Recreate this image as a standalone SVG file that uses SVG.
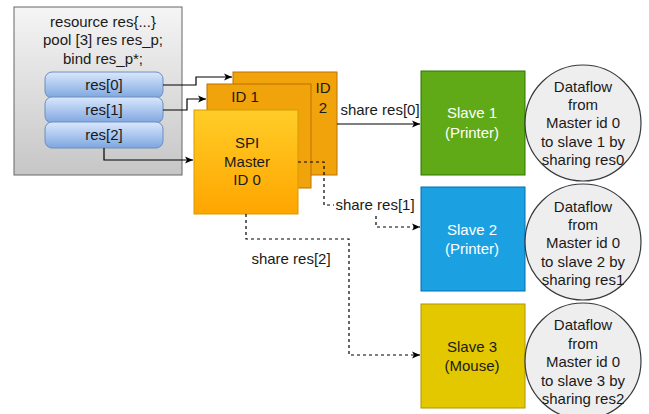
<svg xmlns="http://www.w3.org/2000/svg" width="649" height="414" viewBox="0 0 649 414">
<style>
text{font-family:"Liberation Sans",Arial,sans-serif;font-size:15px;text-anchor:middle;fill:#1a1a1a}
.w{fill:#ffffff}
.conn{fill:none;stroke:#000;stroke-width:1.2}
.dash{stroke-dasharray:3 3}
.circ{fill:#eeeeee;stroke:#36393d;stroke-width:1.2}
.res{stroke:#6c8ebf;stroke-width:1;fill:url(#gBlue)}
</style>
<defs>
<linearGradient id="gGray" x1="0" y1="0" x2="0" y2="1"><stop offset="0" stop-color="#f5f5f5"/><stop offset="1" stop-color="#c6c6c6"/></linearGradient>
<linearGradient id="gBlue" x1="0" y1="0" x2="0" y2="1"><stop offset="0" stop-color="#dae8fc"/><stop offset="1" stop-color="#7ea6e0"/></linearGradient>
<linearGradient id="gOrange" x1="0" y1="0" x2="0" y2="1"><stop offset="0" stop-color="#ffcd28"/><stop offset="1" stop-color="#ffa500"/></linearGradient>
<marker id="arr" markerWidth="10" markerHeight="10" refX="9" refY="5" orient="auto" markerUnits="userSpaceOnUse"><path d="M1,1.5 L9,5 L1,8.5 L3,5 Z" fill="#000"/></marker>
</defs>

<g id="pool">
<rect x="14" y="7" width="168" height="168" fill="url(#gGray)" stroke="#666666"/>
<text x="103" y="27">resource res{...}</text>
<text x="103" y="45">pool [3] res res_p;</text>
<text x="103" y="64">bind res_p*;</text>
</g>
<g id="res0"><rect class="res" x="45" y="72" width="118" height="26" rx="7"/><text x="104" y="90">res[0]</text></g>
<g id="res1"><rect class="res" x="45" y="97" width="118" height="26" rx="7"/><text x="104" y="115">res[1]</text></g>
<g id="res2"><rect class="res" x="45" y="122" width="118" height="26" rx="7"/><text x="104" y="140">res[2]</text></g>

<g id="id2"><rect x="233" y="72" width="104" height="103" fill="#f0a30a" stroke="#bd7000"/><text x="323" y="93">ID</text><text x="323" y="113">2</text></g>
<g id="id1"><rect x="207" y="84" width="104" height="104" fill="#f0a30a" stroke="#bd7000"/><text x="245" y="102">ID 1</text></g>
<g id="id0"><rect x="194" y="110" width="104" height="104" fill="url(#gOrange)" stroke="#d79b00"/><text x="247" y="148">SPI</text><text x="247" y="167">Master</text><text x="247" y="185">ID 0</text></g>

<g id="slave1"><rect x="421" y="71" width="104" height="104" fill="#60a917" stroke="#2d7600"/><text class="w" x="472" y="118">Slave 1</text><text class="w" x="472" y="138">(Printer)</text></g>
<g id="slave2"><rect x="421" y="187" width="104" height="104" fill="#1ba1e2" stroke="#006eaf"/><text class="w" x="472" y="235">Slave 2</text><text class="w" x="472" y="254">(Printer)</text></g>
<g id="slave3"><rect x="421" y="304" width="104" height="104" fill="#e3c800" stroke="#b09500"/><text x="472" y="352">Slave 3</text><text x="472" y="371">(Mouse)</text></g>

<g id="note1"><circle class="circ" cx="583" cy="123" r="58"/><text x="583" y="92">Dataflow</text><text x="583" y="110">from</text><text x="583" y="128">Master id 0</text><text x="583" y="147">to slave 1 by</text><text x="583" y="165">sharing res0</text></g>
<g id="note2"><circle class="circ" cx="583" cy="242" r="58"/><text x="583" y="212">Dataflow</text><text x="583" y="230">from</text><text x="583" y="248">Master id 0</text><text x="583" y="267">to slave 2 by</text><text x="583" y="285">sharing res1</text></g>
<g id="note3"><circle class="circ" cx="583" cy="361" r="58"/><text x="583" y="330">Dataflow</text><text x="583" y="349">from</text><text x="583" y="367">Master id 0</text><text x="583" y="386">to slave 3 by</text><text x="583" y="404">sharing res2</text></g>

<g id="connectors">
<path class="conn" d="M163,85 H196 V77 H232" marker-end="url(#arr)"/>
<path class="conn" d="M163,110 H187 V99 H206" marker-end="url(#arr)"/>
<path class="conn" d="M104,148 V160 H193" marker-end="url(#arr)"/>
<path class="conn" d="M337,124 H420" marker-end="url(#arr)"/>
<text x="380" y="115">share res[0]</text>
<path class="conn dash" d="M298,162 H324 V205 H376 V227 H420" marker-end="url(#arr)"/>
<rect x="334" y="197" width="82" height="16" fill="#ffffff"/>
<text x="375" y="210">share res[1]</text>
<path class="conn dash" d="M246,214 V239 H349 V355 H420" marker-end="url(#arr)"/>
<text x="291" y="264">share res[2]</text>
</g>
</svg>
